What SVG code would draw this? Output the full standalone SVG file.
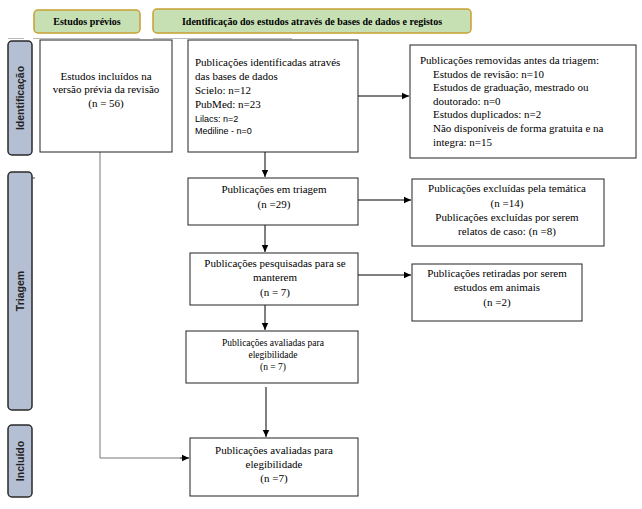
<svg xmlns="http://www.w3.org/2000/svg" width="642" height="509" viewBox="0 0 642 509">
<defs>
<marker id="ah" markerWidth="8" markerHeight="8" refX="7" refY="4" orient="auto" markerUnits="userSpaceOnUse">
<path d="M0,0.8 L7,4 L0,7.2 Z" fill="#000"/>
</marker>
<style>
.hdr{fill:#c6e0b4;stroke:#c8a030;stroke-width:1.5}
.side{fill:#b4bfd3;stroke:#2a2a2a;stroke-width:1.5}
.box{fill:#fff;stroke:#222;stroke-width:1}
.ht{font-family:"Liberation Serif",serif;font-weight:bold;font-size:10px;fill:#000;text-anchor:middle}
.st{font-family:"Liberation Sans",sans-serif;font-weight:bold;font-size:10.5px;fill:#222;text-anchor:middle}
.t{font-family:"Liberation Serif",serif;font-size:11px;fill:#000}
.ts{font-family:"Liberation Sans",sans-serif;font-size:9px;fill:#000}
.sm{font-family:"Liberation Serif",serif;font-size:9.5px;fill:#000}
.c{text-anchor:middle}
.ln{fill:none;stroke:#000;stroke-width:1}
.gl{fill:none;stroke:#777;stroke-width:1}
</style>
</defs>
<g id="faint">
<line x1="8" y1="38.5" x2="24" y2="38.5" stroke="#bbb" stroke-width="1"/>
<line x1="33" y1="38.5" x2="140" y2="38.5" stroke="#bbb" stroke-width="1"/>
<line x1="153" y1="38.5" x2="292" y2="38.5" stroke="#bbb" stroke-width="1"/>
</g>
<g id="hdr-previos"><rect class="hdr" x="34" y="10" width="106" height="23" rx="4"/><text class="ht" x="87" y="25">Estudos prévios</text></g>
<g id="hdr-ident"><rect class="hdr" x="153" y="9" width="318" height="24" rx="4"/><text class="ht" x="312" y="25">Identificação dos estudos através de bases de dados e registos</text></g>
<g id="side-ident"><rect class="side" x="8" y="41" width="24" height="114" rx="4"/><text class="st" transform="translate(24,98) rotate(-90)">Identificação</text></g>
<g id="side-triagem"><rect class="side" x="8" y="172" width="24" height="238" rx="4"/><line x1="32" y1="178" x2="35" y2="178" stroke="#444"/><text class="st" transform="translate(24,291) rotate(-90)">Triagem</text></g>
<g id="side-incluido"><rect class="side" x="8" y="425" width="24" height="72" rx="4"/><text class="st" transform="translate(24,461) rotate(-90)">Incluído</text></g>
<g id="connectors">
<polyline class="gl" points="100,152 100,458 180,458" />
<line class="ln" x1="180" y1="458" x2="189" y2="458" marker-end="url(#ah)"/>
<line class="ln" x1="358" y1="96" x2="409" y2="96" marker-end="url(#ah)"/>
<line class="ln" x1="265" y1="152" x2="265" y2="177" marker-end="url(#ah)"/>
<line class="ln" x1="358" y1="200" x2="411" y2="200" marker-end="url(#ah)"/>
<line class="ln" x1="265" y1="225" x2="265" y2="252" marker-end="url(#ah)"/>
<line class="ln" x1="358" y1="275" x2="411" y2="275" marker-end="url(#ah)"/>
<line class="ln" x1="265" y1="305" x2="265" y2="330" marker-end="url(#ah)"/>
<line class="ln" x1="266" y1="387" x2="266" y2="437" marker-end="url(#ah)"/>
</g>
<g id="box-previos"><rect class="box" x="40" y="40" width="132" height="112"/>
<text class="t c" x="106" y="80">Estudos incluídos na</text>
<text class="t c" x="106" y="93">versão prévia da revisão</text>
<text class="t c" x="106" y="107">(n = 56)</text></g>
<g id="box-identificadas"><rect class="box" x="188" y="40" width="170" height="112"/>
<text class="t" x="195" y="66">Publicações identificadas através</text>
<text class="t" x="195" y="80">das bases de dados</text>
<text class="t" x="195" y="94">Scielo: n=12</text>
<text class="t" x="195" y="108">PubMed: n=23</text>
<text class="ts" x="195" y="122">Lilacs: n=2</text>
<text class="ts" x="195" y="134">Mediline - n=0</text></g>
<g id="box-removidas"><rect class="box" x="410" y="45" width="226" height="113"/>
<text class="t" x="420" y="64">Publicações removidas antes da triagem:</text>
<text class="t" x="433" y="78">Estudos de revisão: n=10</text>
<text class="t" x="433" y="91">Estudos de graduação, mestrado ou</text>
<text class="t" x="433" y="105">doutorado: n=0</text>
<text class="t" x="433" y="118">Estudos duplicados: n=2</text>
<text class="t" x="433" y="132">Não disponíveis de forma gratuita e na</text>
<text class="t" x="433" y="146">integra: n=15</text></g>
<g id="box-triagem"><rect class="box" x="188" y="178" width="170" height="47"/>
<text class="t c" x="274" y="193">Publicações em triagem</text>
<text class="t c" x="274" y="208">(n =29)</text></g>
<g id="box-excluidas"><rect class="box" x="412" y="179" width="192" height="67"/>
<text class="t c" x="507" y="192">Publicações excluídas pela temática</text>
<text class="t c" x="507" y="207">(n =14)</text>
<text class="t c" x="507" y="221">Publicações excluídas por serem</text>
<text class="t c" x="507" y="235">relatos de caso: (n =8)</text></g>
<g id="box-pesquisadas"><rect class="box" x="190" y="253" width="168" height="52"/>
<text class="t c" x="275" y="267">Publicações pesquisadas para se</text>
<text class="t c" x="275" y="281">manterem</text>
<text class="t c" x="275" y="296">(n = 7)</text></g>
<g id="box-retiradas"><rect class="box" x="412" y="264" width="170" height="57"/>
<text class="t c" x="497" y="277">Publicações retiradas por serem</text>
<text class="t c" x="497" y="291">estudos em animais</text>
<text class="t c" x="497" y="306">(n =2)</text></g>
<g id="box-avaliadas1"><rect class="box" x="186" y="331" width="172" height="52"/>
<text class="sm c" x="273" y="346">Publicações avaliadas para</text>
<text class="sm c" x="273" y="358">elegibilidade</text>
<text class="sm c" x="273" y="370">(n = 7)</text></g>
<g id="box-final"><rect class="box" x="190" y="438" width="168" height="58"/>
<text class="t c" x="274" y="454">Publicações avaliadas para</text>
<text class="t c" x="274" y="468">elegibilidade</text>
<text class="t c" x="274" y="482">(n =7)</text></g>
</svg>
